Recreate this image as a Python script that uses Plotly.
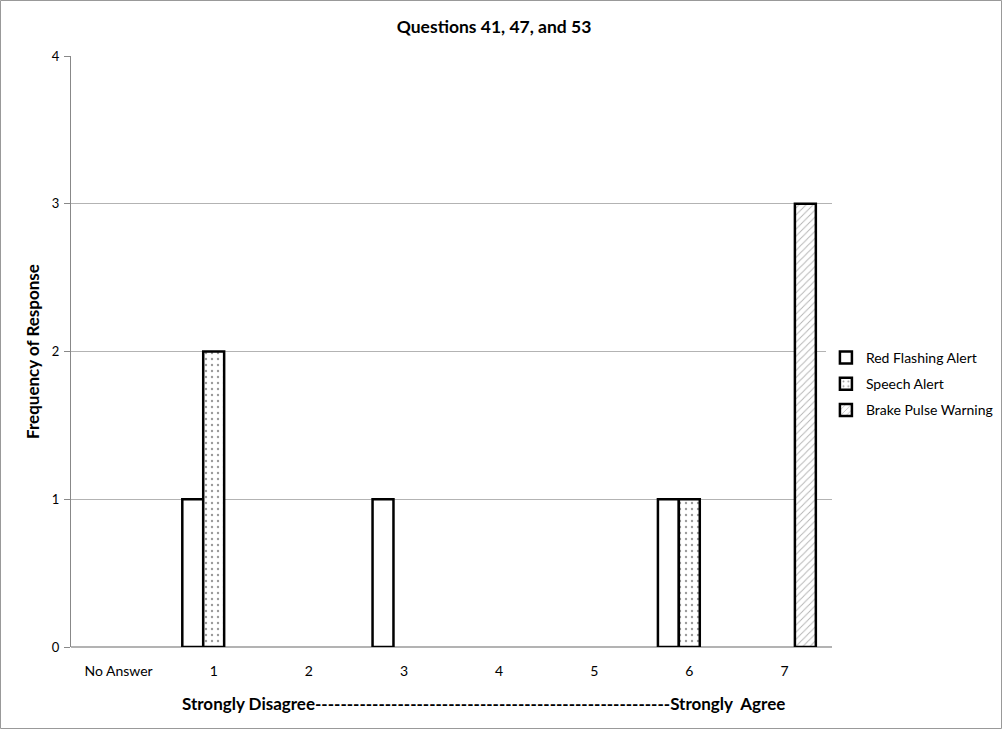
import plotly.graph_objects as go

categories = ["No Answer", "1", "2", "3", "4", "5", "6", "7"]
red_flashing = [0, 1, 0, 1, 0, 0, 1, 0]
speech = [0, 2, 0, 0, 0, 0, 1, 0]
brake_pulse = [0, 0, 0, 0, 0, 0, 0, 3]
y_ticks = [0, 1, 2, 3, 4]

FONT = "Lato"
W, H = 1003, 730
ML, MR, MT, MB = 71, 171, 56, 83


def nz(vals):
    return [v if v != 0 else None for v in vals]


fig = go.Figure()
fig.add_trace(go.Bar(
    x=categories, y=nz(red_flashing), name="Red Flashing Alert", legendgroup="a",
    marker=dict(color="white", line=dict(color="black", width=2.5)),
))
fig.add_trace(go.Bar(
    x=categories, y=nz(speech), name="Speech Alert", legendgroup="b",
    marker=dict(color="white", line=dict(color="black", width=2.5),
                pattern=dict(shape=".", fgcolor="#333333", bgcolor="white", size=6, solidity=0.12)),
))
fig.add_trace(go.Bar(
    x=categories, y=nz(brake_pulse), name="Brake Pulse Warning", legendgroup="c",
    marker=dict(color="white", line=dict(color="black", width=2.5),
                pattern=dict(shape="/", fgcolor="#666666", bgcolor="white", size=5, solidity=0.18)),
))

pw = W - ML - MR
ph = H - MT - MB
fig.add_shape(type="rect", xref="paper", yref="paper",
              x0=-(ML - 0.5) / pw, x1=1 + (MR - 1.5) / pw,
              y0=-(MB - 1.5) / ph, y1=1 + (MT - 0.5) / ph,
              line=dict(color="#999999", width=1), layer="below")

fig.add_annotation(
    text="<b>Strongly Disagree" + "-" * 56 + "Strongly  Agree</b>",
    xref="paper", yref="paper", x=(483 - ML) / pw, y=-(703 - (H - MB)) / ph,
    xanchor="center", yanchor="middle", showarrow=False,
    font=dict(family=FONT, size=17, color="black"),
)

fig.update_layout(
    width=W, height=H,
    margin=dict(l=ML, r=MR, t=MT, b=MB, autoexpand=False),
    plot_bgcolor="white", paper_bgcolor="white",
    barmode="group", bargap=0.34, bargroupgap=0,
    title=dict(text="<b>Questions 41, 47, and 53</b>", x=494 / W, xanchor="center",
               y=1 - 27 / H, yanchor="middle",
               font=dict(family=FONT, size=17.5, color="black")),
    font=dict(family=FONT, size=14, color="black"),
    xaxis=dict(
        type="category", showgrid=False, showline=False, ticks="", automargin=False,
        tickfont=dict(family=FONT, size=14), ticklabelstandoff=14,
    ),
    yaxis=dict(
        range=[0, 4], tickvals=y_ticks, showgrid=True, gridcolor="#b3b3b3", gridwidth=1,
        showline=True, linecolor="#888888", linewidth=1, ticks="outside", ticklen=6,
        tickcolor="#888888", zeroline=True, zerolinecolor="#b3b3b3", automargin=False,
        tickfont=dict(family=FONT, size=13), ticklabelstandoff=2,
        title=dict(text="<b>Frequency of Response</b>", font=dict(family=FONT, size=17), standoff=7),
    ),
    legend=dict(x=0.992, y=0.445, xanchor="left", yanchor="middle",
                font=dict(family=FONT, size=14), tracegroupgap=5, itemwidth=30),
    showlegend=True,
)

fig.write_html("out.html", config={"displayModeBar": False},
               post_script="document.body.style.margin='0px';")
